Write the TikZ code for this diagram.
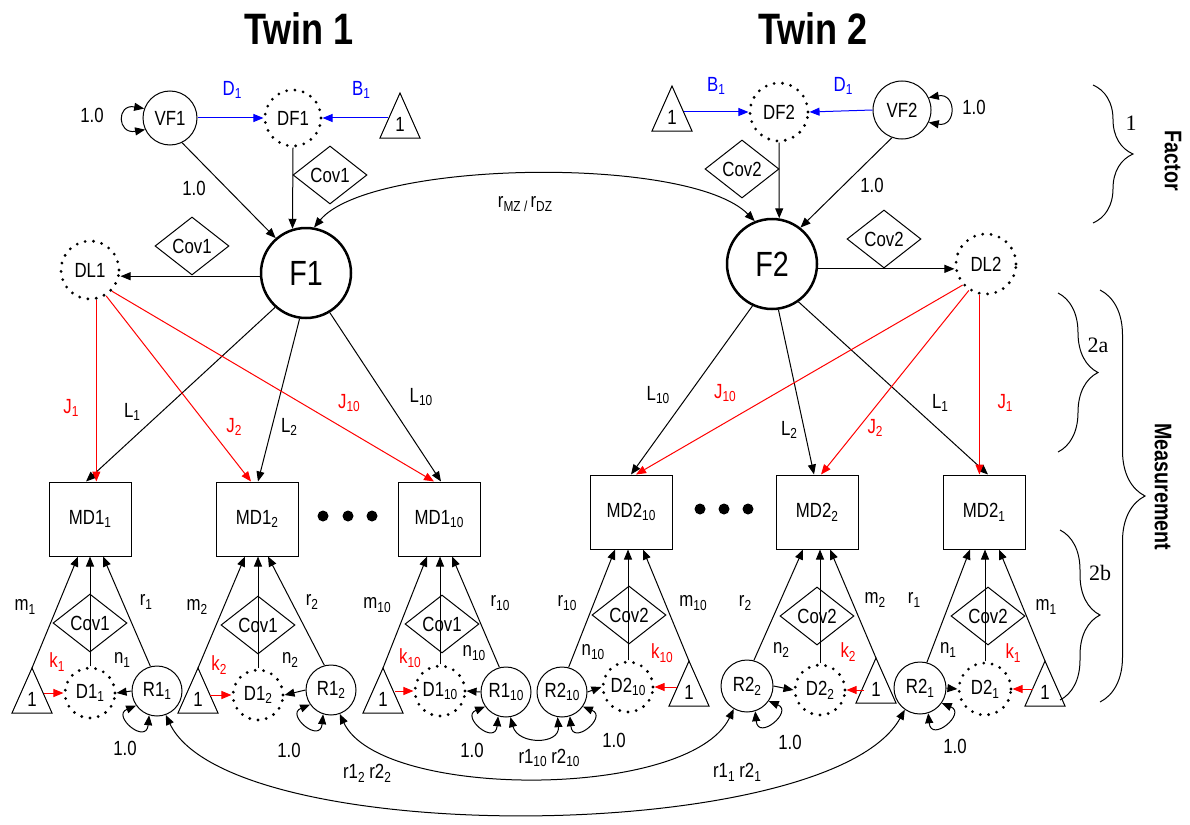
\documentclass[tikz,border=0pt]{standalone}
\usepackage{fontspec}
\setmainfont{Liberation Sans}[FakeStretch=0.82]
\newfontfamily\bracefont{Liberation Serif}
\usetikzlibrary{shapes.geometric,arrows.meta,decorations.pathreplacing,calc}
\newcommand\sbs[1]{\raisebox{-0.35ex}{\fontsize{14.5}{15}\selectfont #1}}
\newcommand\mytri[3]{%
  \draw[line width=1pt] (#2,#3) coordinate (#1a) -- ++(20,45) -- ++(-40,0) -- cycle;
  \node[lbl] (#1) at (#2,#3+31) {1};
  \coordinate (#1r) at (#2+12,#3+27);
  \coordinate (#1l) at (#2-12,#3+27);
}
\begin{document}
\begin{tikzpicture}[x=1pt,y=-1pt,
  font=\fontsize{20.5}{22}\selectfont,
  lbl/.style={inner sep=0pt},
  lat/.style={circle,draw,line width=1pt,inner sep=0pt,minimum size=#1},
  dotc/.style={circle,draw,inner sep=0pt,minimum size=#1,line width=3.1pt,dash pattern=on 0pt off 8.4pt,line cap=round},
  big/.style={circle,draw,line width=2.5pt,inner sep=0pt,minimum size=90pt,font=\fontsize{35}{37}\selectfont},
  box/.style={rectangle,draw,line width=1pt,minimum width=82pt,minimum height=74pt,inner sep=0pt},
  covd/.style={diamond,draw,line width=1pt,minimum width=74pt,minimum height=58pt,inner sep=0pt,aspect=1.28},
  arr/.style={-{Triangle[length=10pt,width=8pt]},line width=1pt},
  dbl/.style={{Triangle[length=10pt,width=8pt]}-{Triangle[length=10pt,width=8pt]},line width=1pt},
  rarr/.style={arr,red},
  barr/.style={arr,blue},
  brc/.style={line width=1pt,decorate,decoration={brace,amplitude=#1}},
  bl/.style={font=\bracefont\fontsize{22}{24}\selectfont},
  sidel/.style={font=\bfseries\fontsize{24}{26}\selectfont,rotate=-90}
]
\useasboundingbox (0,0) rectangle (1190,824);

% titles
\node[font=\bfseries\fontsize{44}{46}\selectfont] (tw1) at (299,29) {Twin 1};
\node[font=\bfseries\fontsize{44}{46}\selectfont] (tw2) at (813,29) {Twin 2};

% ---------- factor part, twin 1
\node[lat=54pt] (VF1) at (170,118) {VF1};
\node[dotc=56pt] (DF1) at (293,118) {DF1};
\mytri{TT1}{400}{93}
\node[covd] (CT1) at (330,175) {Cov1};
\node[big] (F1) at (306,273) {F1};
\node[dotc=58pt] (DL1) at (90,270) {DL1};
\node[covd] (CM1) at (192,246) {Cov1};

\draw[dbl] (VF1.160) .. controls +(-28,-5) and +(-28,5) .. (VF1.205);
\node (lvf1) at (92,115) {1.0};
\draw[barr] (VF1.east) -- (DF1.west);
\draw[barr] (TT1l |- DF1.east) -- (DF1.east);
\node[blue] (ld1a) at (232,90) {D\sbs{1}};
\node[blue] (lb1a) at (361,90) {B\sbs{1}};
\draw[arr] (VF1.296) -- (F1.131);
\node (lvf1f) at (194,188) {1.0};
\draw[arr] (DF1.south) -- (F1.107);
\draw[arr] (F1.184) -- (DL1.east |- F1.184);

% ---------- factor part, twin 2
\node[lat=58pt] (VF2) at (902,110) {VF2};
\node[dotc=58pt] (DF2) at (779,112) {DF2};
\mytri{TT2}{672}{86}
\node[covd] (CT2) at (742,169) {Cov2};
\node[big] (F2) at (772,264) {F2};
\node[dotc=60pt] (DL2) at (986,264) {DL2};
\node[covd] (CM2) at (884,239) {Cov2};

\draw[dbl] (VF2.25) .. controls +(28,-5) and +(28,5) .. (VF2.335);
\node (lvf2) at (974,107) {1.0};
\draw[barr] (VF2.west) -- (DF2.east);
\draw[barr] (TT2r |- DF2.west) -- (DF2.west);
\node[blue] (lb1b) at (716,86) {B\sbs{1}};
\node[blue] (ld1b) at (843,86) {D\sbs{1}};
\draw[arr] (VF2.250) -- (F2.52);
\node (lvf2f) at (872,185) {1.0};
\draw[arr] (DF2.south) -- (F2.81);
\draw[arr] (F2.354) -- (DL2.west |- F2.354);

% twin correlation
\draw[dbl] (F1.80) .. controls (370,160) and (690,155) .. (F2.112);
\node (lrmz) at (525,204) {r\sbs{MZ / }r\sbs{DZ}};

% ---------- measured variables
\node[box] (M11) at (90,519) {MD1\sbs{1}};
\node[box] (M12) at (257,519) {MD1\sbs{2}};
\node[box] (M110) at (439,519) {MD1\sbs{10}};
\node[box] (M210) at (631,512) {MD2\sbs{10}};
\node[box] (M22) at (817,512) {MD2\sbs{2}};
\node[box] (M21) at (984,512) {MD2\sbs{1}};
\foreach \x in {323,348,372} \fill (\x,516) circle (5.5);
\foreach \x in {700,724,748} \fill (\x,509) circle (5.5);

% loadings twin 1
\draw[arr] (F1.228) -- ($(M11.north)+(-4,0)$);
\draw[arr] (F1.262) -- ($(M12.north)+(1,0)$);
\draw[arr] (F1.301) -- ($(M110.north)+(2,0)$);
\draw[rarr] (DL1.282) -- (DL1.282 |- M11.north);
\draw[rarr] (DL1.302) -- ($(M12.north)+(-6,0)$);
\draw[rarr] (DL1.316) -- ($(M110.north)+(-5,0)$);
\node[red] (lj1a) at (71,408) {J\sbs{1}};
\node (ll1a) at (132,412) {L\sbs{1}};
\node[red] (lj2a) at (234,427) {J\sbs{2}};
\node (ll2a) at (289,427) {L\sbs{2}};
\node[red] (lj10a) at (349,403) {J\sbs{10}};
\node (ll10a) at (421,397) {L\sbs{10}};

% loadings twin 2
\draw[arr] (F2.245) -- (M210.north);
\draw[arr] (F2.278) -- ($(M22.north)+(-3,0)$);
\draw[arr] (F2.305) -- ($(M21.north)+(4,0)$);
\draw[rarr] (DL2.222) -- ($(M210.north)+(5,0)$);
\draw[rarr] (DL2.237) -- ($(M22.north)+(4,0)$);
\draw[rarr] (DL2.258) -- (DL2.258 |- M21.north);
\node (ll10b) at (658,395) {L\sbs{10}};
\node[red] (lj10b) at (725,393) {J\sbs{10}};
\node (ll2b) at (789,430) {L\sbs{2}};
\node[red] (lj2b) at (875,428) {J\sbs{2}};
\node (ll1b) at (940,403) {L\sbs{1}};
\node[red] (lj1b) at (1005,403) {J\sbs{1}};

% ---------- group MD1_1
\node[dotc=50pt] (D11) at (90,693) {D1\sbs{1}};
\node[lat=50pt] (R11) at (157,691) {R1\sbs{1}};
\mytri{T11}{32}{668}
\node[covd] (C11) at (90,623) {Cov1};
\draw[arr] (T11a) -- ($(M11.south)+(-12,0)$);
\draw[arr] (D11.north) -- (D11.north |- M11.south);
\draw[arr] (R11.105) -- ($(M11.south)+(13,0)$);
\draw[arr] (R11.west) -- (D11.east);
\draw[rarr] (T11r |- D11.west) -- (D11.west);
\draw[dbl] (R11.215) .. controls +(-25,10) and +(-3,30) .. (R11.252);
\node (lm11) at (25,607) {m\sbs{1}};
\node (lr11) at (146,602) {r\sbs{1}};
\node (ln11) at (122,660) {n\sbs{1}};
\node[red] (lk11) at (57,662) {k\sbs{1}};
\node (le11) at (125,748) {1.0};

% ---------- group MD1_2
\node[dotc=50pt] (D12) at (258,695) {D1\sbs{2}};
\node[lat=50pt] (R12) at (331,690) {R1\sbs{2}};
\mytri{T12}{198}{668}
\node[covd] (C12) at (258,625) {Cov1};
\draw[arr] (T12a) -- ($(M12.south)+(-12,0)$);
\draw[arr] (D12.north) -- (D12.north |- M12.south);
\draw[arr] (R12.105) -- ($(M12.south)+(11,0)$);
\draw[arr] (R12.west) -- (D12.east);
\draw[rarr] (T12r |- D12.west) -- (D12.west);
\draw[dbl] (R12.215) .. controls +(-25,10) and +(-3,30) .. (R12.252);
\node (lm12) at (197,607) {m\sbs{2}};
\node (lr12) at (312,602) {r\sbs{2}};
\node (ln12) at (290,660) {n\sbs{2}};
\node[red] (lk12) at (219,665) {k\sbs{2}};
\node (le12) at (289,750) {1.0};

% ---------- group MD1_10
\node[dotc=50pt] (D110) at (440,691) {D1\sbs{10}};
\node[lat=50pt] (R110) at (506,692) {R1\sbs{10}};
\mytri{T110}{383}{668}
\node[covd] (C110) at (442,624) {Cov1};
\draw[arr] (T110a) -- ($(M110.south)+(-12,0)$);
\draw[arr] (D110.north) -- (D110.north |- M110.south);
\draw[arr] (R110.105) -- ($(M110.south)+(13,0)$);
\draw[arr] (R110.west) -- (D110.east);
\draw[rarr] (T110r |- D110.west) -- (D110.west);
\draw[dbl] (R110.215) .. controls +(-25,10) and +(-3,30) .. (R110.252);
\node (lm110) at (377,605) {m\sbs{10}};
\node (lr110) at (500,603) {r\sbs{10}};
\node (ln110) at (474,653) {n\sbs{10}};
\node[red] (lk110) at (410,658) {k\sbs{10}};
\node (le110) at (472,750) {1.0};

% ---------- group MD2_10
\node[dotc=50pt] (D210) at (628,687) {D2\sbs{10}};
\node[lat=50pt] (R210) at (562,692) {R2\sbs{10}};
\mytri{T210}{689}{661}
\node[covd] (C210) at (629,615) {Cov2};
\draw[arr] (T210a) -- ($(M210.south)+(12,0)$);
\draw[arr] (D210.north) -- (D210.north |- M210.south);
\draw[arr] (R210.75) -- ($(M210.south)+(-16,0)$);
\draw[arr] (R210.east) -- (D210.west);
\draw[rarr] (T210l |- D210.east) -- (D210.east);
\draw[dbl] (R210.325) .. controls +(25,10) and +(3,30) .. (R210.288);
\node (lr210) at (567,603) {r\sbs{10}};
\node (lm210) at (693,603) {m\sbs{10}};
\node (ln210) at (593,652) {n\sbs{10}};
\node[red] (lk210) at (662,653) {k\sbs{10}};
\node (le210) at (614,740) {1.0};

% ---------- group MD2_2
\node[dotc=50pt] (D22) at (820,690) {D2\sbs{2}};
\node[lat=52pt] (R22) at (747,686) {R2\sbs{2}};
\mytri{T22}{876}{658}
\node[covd] (C22) at (817,616) {Cov2};
\draw[arr] (T22a) -- ($(M22.south)+(13,0)$);
\draw[arr] (D22.north) -- (D22.north |- M22.south);
\draw[arr] (R22.75) -- ($(M22.south)+(-14,0)$);
\draw[arr] (R22.east) -- (D22.west);
\draw[rarr] (T22l |- D22.east) -- (D22.east);
\draw[dbl] (R22.325) .. controls +(25,10) and +(3,30) .. (R22.288);
\node (lr22) at (745,603) {r\sbs{2}};
\node (lm22) at (875,600) {m\sbs{2}};
\node (ln22) at (781,650) {n\sbs{2}};
\node[red] (lk22) at (848,652) {k\sbs{2}};
\node (le22) at (790,742) {1.0};

% ---------- group MD2_1
\node[dotc=52pt] (D21) at (985,689) {D2\sbs{1}};
\node[lat=52pt] (R21) at (920,688) {R2\sbs{1}};
\mytri{T21}{1045}{661}
\node[covd] (C21) at (988,616) {Cov2};
\draw[arr] (T21a) -- ($(M21.south)+(15,0)$);
\draw[arr] (D21.north) -- (D21.north |- M21.south);
\draw[arr] (R21.75) -- ($(M21.south)+(-14,0)$);
\draw[arr] (R21.east) -- (D21.west);
\draw[rarr] (T21l |- D21.east) -- (D21.east);
\draw[dbl] (R21.325) .. controls +(25,10) and +(3,30) .. (R21.288);
\node (lr21) at (914,600) {r\sbs{1}};
\node (lm21) at (1046,607) {m\sbs{1}};
\node (ln21) at (948,650) {n\sbs{1}};
\node[red] (lk21) at (1013,653) {k\sbs{1}};
\node (le21) at (955,746) {1.0};

% ---------- residual correlations
\draw[dbl] (R11.290) .. controls (230,850) and (830,845) .. (R21.235);
\draw[dbl] (R12.290) .. controls (380,800) and (690,800) .. (R22.240);
\draw[dbl] (R110.280) .. controls (518,745) and (560,745) .. (R210.260);
\node (lc1) at (737,772) {r1\sbs{1} r2\sbs{1}};
\node (lc2) at (367,773) {r1\sbs{2} r2\sbs{2}};
\node (lc10) at (549,758) {r1\sbs{10} r2\sbs{10}};

% ---------- braces
\draw[brc=40pt] (1093,85) -- (1093,223);
\node[bl] (bf) at (1131,123) {1};
\node[sidel] (lfac) at (1173,161) {Factor};
\draw[brc=40pt] (1058,293) -- (1058,452);
\node[bl] (b2a) at (1098,345) {2a};
\draw[brc=40pt] (1060,530) -- (1060,700);
\node[bl] (b2b) at (1100,573) {2b};
\draw[brc=45pt] (1100,290) -- (1100,702);
\node[sidel] (lmeas) at (1163,487) {Measurement};
\end{tikzpicture}
\end{document}
